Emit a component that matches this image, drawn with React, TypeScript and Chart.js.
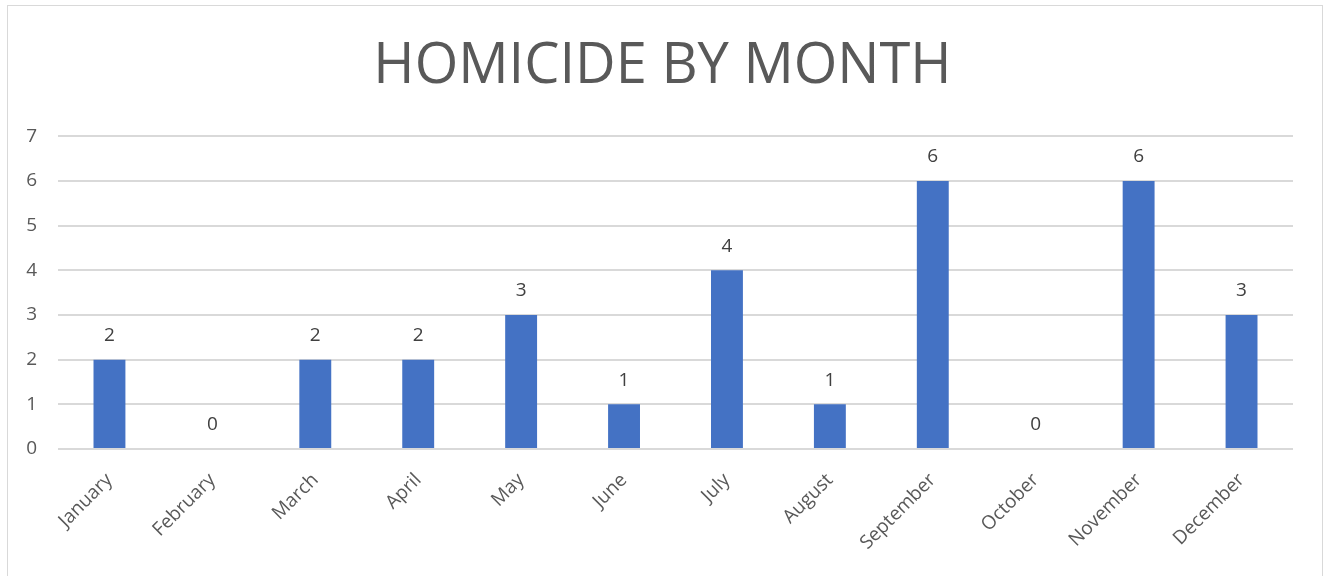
import React, { useEffect, useRef } from "react";
import { Chart, registerables } from "chart.js";

Chart.register(...registerables);

const months = [
  "January", "February", "March", "April", "May", "June",
  "July", "August", "September", "October", "November", "December",
];
const homicides = [2, 0, 2, 2, 3, 1, 4, 1, 6, 0, 6, 3];
const yTicks = [0, 1, 2, 3, 4, 5, 6, 7];
const chartTitle = "HOMICIDE BY MONTH";

const FONT = "'Open Sans', sans-serif";
const TEXT = "#595959";

const dataLabels = {
  id: "dataLabels",
  afterDatasetsDraw(chart: any) {
    const ctx = chart.ctx;
    const meta = chart.getDatasetMeta(0);
    ctx.save();
    ctx.font = `19px ${FONT}`;
    ctx.fillStyle = "#404040";
    ctx.textAlign = "center";
    ctx.textBaseline = "middle";
    meta.data.forEach((el: any, i: number) => {
      ctx.fillText(String(homicides[i]), el.x, el.y - 24);
    });
    ctx.restore();
  },
};

export default function App() {
  const ref = useRef<HTMLCanvasElement>(null);
  useEffect(() => {
    document.body.style.margin = "0";
    const chart = new Chart(ref.current!, {
      type: "bar",
      data: {
        labels: months,
        datasets: [
          {
            data: homicides,
            backgroundColor: "#4472C4",
            barPercentage: 0.31,
            categoryPercentage: 1,
            yAxisID: "y",
          },
        ],
      },
      options: {
        animation: false,
        responsive: false,
        maintainAspectRatio: false,
        layout: { padding: { left: 14, right: 14, top: 0, bottom: 0 } },
        plugins: {
          legend: { display: false },
          tooltip: { enabled: false },
          title: {
            display: true,
            text: chartTitle,
            color: TEXT,
            font: { family: FONT, size: 56, weight: "normal", lineHeight: 1.2 },
            padding: { top: 33, bottom: 36 },
          },
        },
        scales: {
          x: {
            grid: { display: false, drawTicks: false },
            border: { display: false },
            ticks: {
              color: TEXT,
              font: { family: FONT, size: 19 },
              minRotation: 45,
              maxRotation: 45,
              padding: 20,
            },
            afterFit(scale: any) {
              scale.height = 127;
            },
          },
          y: {
            min: 0,
            max: 7,
            afterBuildTicks(scale: any) {
              scale.ticks = yTicks.map((v) => ({ value: v }));
            },
            grid: { color: "#d9d9d9", lineWidth: 2, drawTicks: false },
            border: { display: false },
            ticks: {
              color: TEXT,
              font: { family: FONT, size: 19 },
              padding: 21,
            },
            afterFit(scale: any) {
              scale.width = 44;
            },
          },
          y2: {
            position: "right",
            display: true,
            min: 0,
            max: 7,
            grid: { display: false, drawTicks: false },
            border: { display: false },
            ticks: { display: false },
            afterFit(scale: any) {
              scale.width = 18;
            },
          },
        },
      },
      plugins: [dataLabels],
    });
    return () => chart.destroy();
  }, []);

  return (
    <div style={{ position: "relative", width: 1325, height: 576, background: "#fff", overflow: "hidden" }}>
      <div
        style={{
          position: "absolute",
          left: 7,
          top: 5,
          width: 1316,
          height: 600,
          border: "1px solid #d9d9d9",
          boxSizing: "border-box",
        }}
      />
      <canvas ref={ref} width={1325} height={576} style={{ position: "absolute", left: 0, top: 0 }} />
    </div>
  );
}
